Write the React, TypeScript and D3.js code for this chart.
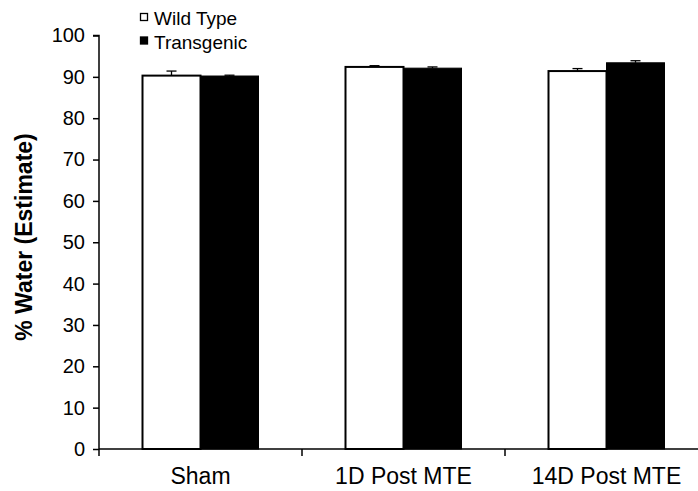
import React, { useEffect, useRef } from 'react';
import * as d3 from 'd3';

// groups along the x axis
const categories = ['Sham', '1D Post MTE', '14D Post MTE'];
const seriesNames = ['Wild Type', 'Transgenic'];
// mean % water per group
const wildType = [90.3, 92.4, 91.4];
const transgenic = [90.2, 92.1, 93.4];
// upward error (SEM)
const wildTypeErr = [1.1, 0.3, 0.6];
const transgenicErr = [0.2, 0.3, 0.5];
const yTicks = [0, 10, 20, 30, 40, 50, 60, 70, 80, 90, 100];

const App = () => {
  const svgRef = useRef<SVGSVGElement>(null);

  useEffect(() => {
    const width = 698;
    const font = 'Liberation Sans, Arial, sans-serif';

    const svg = d3.select(svgRef.current);
    svg.selectAll('*').remove();

    // band goes past the right edge like the original plot area
    const x = d3.scaleBand().domain(categories).range([99, 708]);
    const inner = d3
      .scaleBand()
      .domain(seriesNames)
      .range([0, 116]);
    const y = d3.scaleLinear().domain([0, 100]).range([449, 35.5]);

    const rows = categories.map((c, i) => [
      { cat: c, s: seriesNames[0], v: wildType[i], e: wildTypeErr[i] },
      { cat: c, s: seriesNames[1], v: transgenic[i], e: transgenicErr[i] }
    ]).flat();

    const bx = (d) => x(d.cat) + x.bandwidth() / 2 - 58 + inner(d.s);

    // error bars behind bars
    const err = svg.append('g').attr('stroke', '#000').attr('stroke-width', 1.3);
    rows.forEach((d) => {
      const cx = bx(d) + inner.bandwidth() / 2;
      err.append('line')
        .attr('x1', cx).attr('x2', cx)
        .attr('y1', y(d.v)).attr('y2', y(d.v + d.e));
      err.append('line')
        .attr('x1', cx - 5).attr('x2', cx + 5)
        .attr('y1', y(d.v + d.e)).attr('y2', y(d.v + d.e));
    });

    svg.append('g')
      .selectAll('rect')
      .data(rows)
      .enter()
      .append('rect')
      .attr('x', bx)
      .attr('y', (d) => y(d.v))
      .attr('width', inner.bandwidth())
      .attr('height', (d) => y(0) - y(d.v))
      .attr('fill', (d) => (d.s === 'Wild Type' ? '#fff' : '#000'))
      .attr('stroke', '#000')
      .attr('stroke-width', (d) => (d.s === 'Wild Type' ? 2 : 1));

    // y axis
    const yAxis = svg.append('g')
      .attr('transform', 'translate(99,0)')
      .call(d3.axisLeft(y).tickValues(yTicks).tickSize(6).tickPadding(8));
    yAxis.select('.domain').attr('stroke-width', 1.5).attr('d', `M-6,${y(100)}H0V${y(0)}`);
    yAxis.selectAll('.tick line').attr('stroke-width', 1.5);
    yAxis.selectAll('.tick text')
      .attr('font-family', font)
      .attr('font-size', 20)
      .attr('fill', '#000');

    // x axis
    const xAxis = svg.append('g').attr('transform', `translate(0,${y(0)})`);
    xAxis.append('line')
      .attr('x1', 99).attr('x2', width)
      .attr('stroke', '#000').attr('stroke-width', 1.5);
    xAxis.selectAll('.xt')
      .data(categories)
      .enter()
      .append('line')
      .attr('x1', (d) => x(d)).attr('x2', (d) => x(d))
      .attr('y1', 0).attr('y2', 7)
      .attr('stroke', '#000').attr('stroke-width', 1.5);
    xAxis.selectAll('.xl')
      .data(categories)
      .enter()
      .append('text')
      .attr('x', (d) => x(d) + x.bandwidth() / 2)
      .attr('y', 35)
      .attr('text-anchor', 'middle')
      .attr('font-family', font)
      .attr('font-size', 23)
      .text((d) => d);

    // y title
    svg.append('text')
      .attr('transform', 'translate(32,237) rotate(-90)')
      .attr('text-anchor', 'middle')
      .attr('font-family', font)
      .attr('font-size', 23)
      .attr('font-weight', 'bold')
      .text('% Water (Estimate)');

    // legend
    const legend = svg.append('g');
    seriesNames.forEach((s, i) => {
      const ly = 25 + i * 23.5;
      legend.append('rect')
        .attr('x', 140.5).attr('y', ly - 11.5)
        .attr('width', 7).attr('height', 7)
        .attr('fill', i === 0 ? '#fff' : '#000')
        .attr('stroke', '#000').attr('stroke-width', 1.3);
      legend.append('text')
        .attr('x', 154).attr('y', ly)
        .attr('font-family', font)
        .attr('font-size', 19)
        .text(s);
    });
  }, []);

  return (
    <div style={{ position: 'absolute', left: 0, top: 0 }}>
      <svg ref={svgRef} width={698} height={491} style={{ display: 'block', background: '#fff' }}></svg>
    </div>
  );
};

export default App;
